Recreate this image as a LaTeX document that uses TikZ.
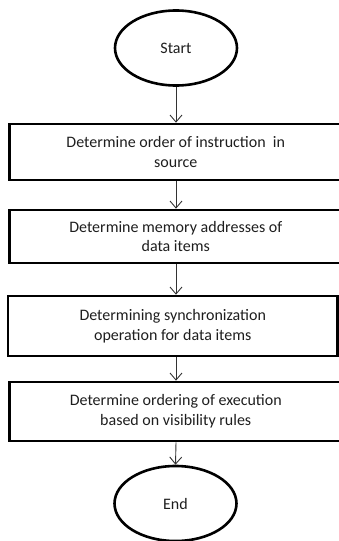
\documentclass[tikz,border=0pt]{standalone}
\usepackage{fontspec}
\setmainfont{Carlito}
\usetikzlibrary{shapes.geometric,arrows.meta}
\definecolor{inkgrey}{HTML}{1E1E1E}
\begin{document}
\begin{tikzpicture}[x=1pt,y=1pt,
  terminal/.style={draw=black, ellipse, line width=2.6pt, inner sep=0pt,
    minimum width=122pt, minimum height=75pt, text=inkgrey,
    font=\fontsize{16}{20}\selectfont},
  stepbox/.style={draw=black, rectangle, line width=2.6pt, inner sep=0pt,
    align=center, text=inkgrey, font=\fontsize{16}{20}\selectfont},
  flow/.style={draw=black!80, line width=0.9pt,
    -{Straight Barb[length=7pt,width=12pt,line width=0.9pt]}}
]
\useasboundingbox (0,0) rectangle (339,-541);

% terminals
\node[terminal] (start) at (176,-48) {Start};
\node[terminal] (end) at (175.5,-503.5) {End};

% process steps
\node[stepbox, minimum width=332.5pt, minimum height=56pt] (b1) at (175.75,-152)
  {Determine order of instruction\ \ in\\source};
\node[stepbox, minimum width=332.5pt, minimum height=53pt] (b2) at (175.75,-236.5)
  {Determine memory addresses of\\data items};
\node[stepbox, minimum width=329.5pt, minimum height=60pt] (b3) at (172.75,-326)
  {Determining synchronization\\operation for data items};
\node[stepbox, minimum width=332.5pt, minimum height=59pt] (b4) at (175.75,-411.5)
  {Determine ordering of execution\\based on visibility rules};

% connectors
\draw[flow] (start.south) -- (start.south |- b1.north);
\draw[flow] (start.south |- b1.south) -- (start.south |- b2.north);
\draw[flow] (start.south |- b2.south) -- (start.south |- b3.north);
\draw[flow] (start.south |- b3.south) -- (start.south |- b4.north);
\draw[flow] (start.south |- b4.south) -- (end.north);
\end{tikzpicture}
\end{document}
